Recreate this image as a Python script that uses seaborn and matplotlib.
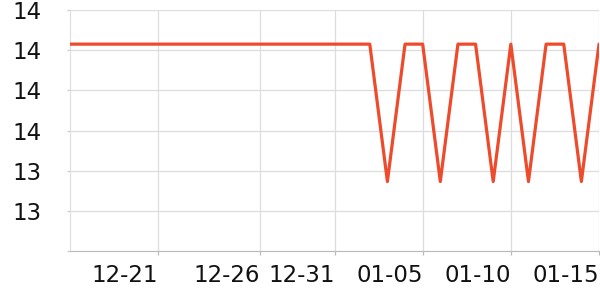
import matplotlib
matplotlib.use("Agg")
import matplotlib.pyplot as plt
import matplotlib.dates as mdates
import seaborn as sns
import pandas as pd

# data
dates = pd.date_range("2023-12-16", "2024-01-15", freq="D")
HI, LO = 13.715, 13.373
values = [HI] * 18 + [LO, HI, HI, LO, HI, HI, LO, HI, LO, HI, HI, LO, HI]
y_ticks = [13.2, 13.3, 13.4, 13.5, 13.6, 13.7, 13.8]
y_labels = ["", "13", "13", "14", "14", "14", "14"]
x_ticks = pd.to_datetime(["2023-12-21 00:00", "2023-12-26 18:30", "2023-12-31 00:00",
                          "2024-01-05 00:00", "2024-01-10 00:00", "2024-01-15 00:00"],
                         format="%Y-%m-%d %H:%M")

df = pd.DataFrame({"date": dates, "value": values})

sns.set_style("white")
plt.rcParams["font.family"] = ["DejaVu Sans"]

fig = plt.figure(figsize=(6, 3), dpi=100)
ax = fig.add_axes([70 / 600, 1 - 251 / 300, 529 / 600, 241 / 300])

sns.lineplot(data=df, x="date", y="value", ax=ax, color="#ee4a2c",
             linewidth=2.3, zorder=3)

ax.set_xlim(dates[0], dates[-1])
ax.set_ylim(13.2, 13.8)
ax.set_yticks(y_ticks)
ax.set_yticklabels(y_labels)
ax.xaxis.set_major_locator(matplotlib.ticker.FixedLocator(mdates.date2num(x_ticks)))
ax.xaxis.set_major_formatter(mdates.DateFormatter("%m-%d"))
for lab in ax.get_xticklabels():
    lab.set_horizontalalignment("right")

ax.set_xlabel("")
ax.set_ylabel("")
ax.grid(True, color="#dddddd", linewidth=0.9)
ax.set_axisbelow(True)
for s in ["top", "right"]:
    ax.spines[s].set_visible(False)
ax.spines["left"].set_color("#dddddd")
ax.spines["bottom"].set_color("#bbbbbb")
ax.tick_params(axis="y", length=2, width=0.9, color="#cccccc", pad=18.5,
               labelsize=16.5, labelcolor="#111111", left=True)
ax.tick_params(axis="x", length=3, width=0.9, color="#bbbbbb", pad=6,
               labelsize=16.5, labelcolor="#111111", bottom=True)

fig.savefig("out.png", dpi=100)
